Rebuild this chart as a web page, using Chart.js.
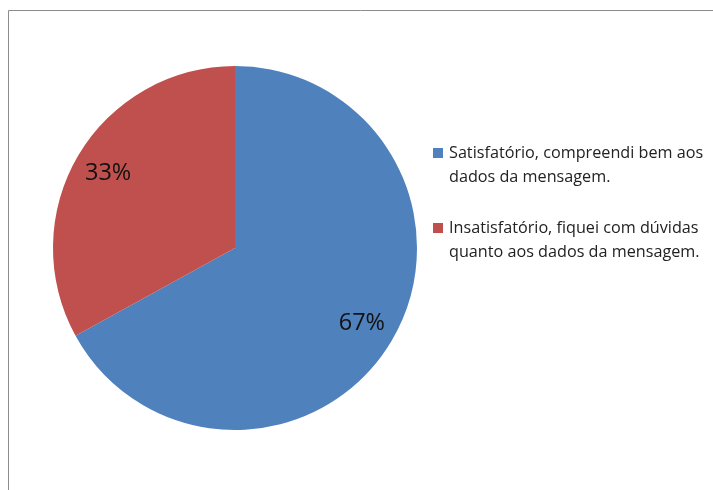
<!DOCTYPE html>
<html><head><meta charset="utf-8">
<script src="https://cdn.jsdelivr.net/npm/chart.js@4/dist/chart.umd.min.js"></script>
<style>html,body{margin:0;padding:0;background:#fff}#wrap{width:713px;height:490px;position:relative}</style>
</head><body><div id="wrap"><canvas id="c" width="713" height="490"></canvas></div>
<script>
const categories = [
  ["Satisfatório, compreendi bem aos", "dados da mensagem."],
  ["Insatisfatório, fiquei com dúvidas", "quanto aos dados da mensagem."]
];
const values = [67, 33];
const valueLabels = ["67%", "33%"];
const colors = ["#4F81BD", "#C0504D"];

const FONT = "'Open Sans', 'Liberation Sans', Arial, sans-serif";

const framePlugin = {
  id: 'frame',
  beforeDraw(chart) {
    const ctx = chart.ctx;
    ctx.save();
    ctx.fillStyle = '#fff';
    ctx.fillRect(0, 0, chart.width, chart.height);
    ctx.strokeStyle = '#8c8c8c';
    ctx.lineWidth = 1;
    ctx.beginPath();
    ctx.moveTo(8.5, 490); ctx.lineTo(8.5, 10.5); ctx.lineTo(713, 10.5);
    ctx.stroke();
    ctx.restore();
  }
};

const labelPlugin = {
  id: 'pctLabels',
  afterDatasetsDraw(chart) {
    const ctx = chart.ctx;
    const meta = chart.getDatasetMeta(0);
    ctx.save();
    ctx.font = '23.5px ' + FONT;
    ctx.fillStyle = '#111';
    ctx.textAlign = 'center';
    ctx.textBaseline = 'middle';
    meta.data.forEach((arc, i) => {
      const p = arc.getProps(['x','y','startAngle','endAngle','outerRadius'], true);
      const mid = (p.startAngle + p.endAngle) / 2;
      const r = p.outerRadius * 0.81;
      ctx.fillText(valueLabels[i], p.x + Math.cos(mid) * r, p.y + Math.sin(mid) * r);
    });
    ctx.restore();
  }
};

const legendPlugin = {
  id: 'customLegend',
  afterDraw(chart) {
    const ctx = chart.ctx;
    ctx.save();
    ctx.font = '16.2px ' + FONT;
    ctx.textBaseline = 'middle';
    ctx.textAlign = 'left';
    const x0 = 433, tops = [153, 228], lh = 24;
    chart.data.labels.forEach((lab, i) => {
      const y = tops[i];
      ctx.fillStyle = chart.data.datasets[0].backgroundColor[i];
      ctx.fillRect(x0, y - 5, 10, 10);
      ctx.fillStyle = '#222';
      lab.forEach((line, j) => ctx.fillText(line, x0 + 16, y + j * lh));
    });
    ctx.restore();
  }
};

new Chart(document.getElementById('c'), {
  type: 'pie',
  data: {
    labels: categories,
    datasets: [{ data: values, backgroundColor: colors, borderWidth: 0, hoverOffset: 0 }]
  },
  options: {
    responsive: false,
    animation: false,
    layout: { padding: { left: 53, top: 66, right: 296, bottom: 60 } },
    plugins: { legend: { display: false }, tooltip: { enabled: false } }
  },
  plugins: [framePlugin, labelPlugin, legendPlugin]
});
</script></body></html>
